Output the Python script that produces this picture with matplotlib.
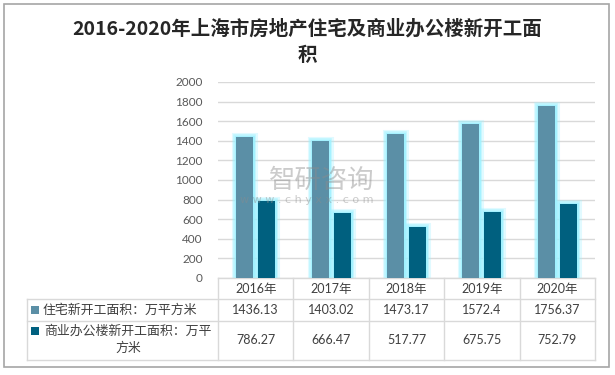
import matplotlib
matplotlib.use("Agg")
import matplotlib.pyplot as plt
import matplotlib.transforms as mtransforms
from matplotlib.patches import Rectangle
import numpy as np

plt.rcParams['font.family'] = ['Noto Sans CJK SC', 'DejaVu Sans']

title = "2016-2020年上海市房地产住宅及商业办公楼新开工面\n积"
years = ["2016年", "2017年", "2018年", "2019年", "2020年"]
residential = [1436.13, 1403.02, 1473.17, 1572.4, 1756.37]
commercial = [786.27, 666.47, 517.77, 675.75, 752.79]
residential_labels = ["1436.13", "1403.02", "1473.17", "1572.4", "1756.37"]
commercial_labels = ["786.27", "666.47", "517.77", "675.75", "752.79"]
series_names = ["住宅新开工面积：万平方米", "商业办公楼新开工面积：万平\n方米"]
yticks = [0, 200, 400, 600, 800, 1000, 1200, 1400, 1600, 1800, 2000]

W, H = 615, 375
fig = plt.figure(figsize=(W / 100, H / 100), dpi=100)

def fx(px):
    return px / W

def fy(py):
    return 1 - py / H

NUMF = ['Lato', 'Noto Sans CJK SC', 'DejaVu Sans']

# outer border
fig.patches.append(Rectangle((fx(4), fy(367)), fx(605), (363) / H, transform=fig.transFigure,
                             fill=False, edgecolor='#a6a6a6', linewidth=1.2))

ax = fig.add_axes([fx(218), fy(278), fx(595 - 218), (278 - 82) / H])
x = np.arange(len(years))
bw = 0.225
off = 0.145
c1 = '#5B8FA6'
c2 = '#00607F'
glow = '#9EF1FF'

for xs, vals, col in [(x - off, residential, c1), (x + off, commercial, c2)]:
    ax.bar(xs, vals, width=bw, color=glow, edgecolor=glow, linewidth=6.5, alpha=0.3, zorder=2)
    ax.bar(xs, vals, width=bw, color=glow, edgecolor=glow, linewidth=4, alpha=0.55, zorder=2)
    ax.bar(xs, vals, width=bw, color=glow, edgecolor=glow, linewidth=2, alpha=0.85, zorder=2)
    ax.bar(xs, vals, width=bw, color=col, linewidth=0, zorder=3)

ax.set_xlim(-0.5, len(years) - 0.5)
ax.set_ylim(0, 2000)
ax.set_yticks(yticks)
ax.set_yticklabels([str(t) for t in yticks], color='#595959', fontsize=8.5, family=NUMF)
ax.tick_params(axis='y', length=0, pad=11)
ax.set_xticks([])
ax.yaxis.grid(True, color='#d9d9d9', linewidth=1)
ax.set_axisbelow(True)
for s in ['top', 'right', 'left']:
    ax.spines[s].set_visible(False)
ax.spines['bottom'].set_color('#d9d9d9')
ax.spines['bottom'].set_linewidth(1)

# table
blend = mtransforms.blended_transform_factory(ax.transData, fig.transFigure)
grid_c = '#d9d9d9'
left_px = 27
for yp in [299, 321, 360]:
    fig.lines.append(plt.Line2D([fx(left_px), fx(595)], [fy(yp), fy(yp)],
                                transform=fig.transFigure, color=grid_c, lw=1))
fig.lines.append(plt.Line2D([fx(left_px), fx(left_px)], [fy(299), fy(360)],
                            transform=fig.transFigure, color=grid_c, lw=1))
for b in np.arange(len(years) + 1) - 0.5:
    ax.plot([b, b], [fy(278), fy(360)], transform=blend, color=grid_c, lw=1, clip_on=False)

tc = '#404040'
for i in range(len(years)):
    ax.text(x[i], fy(289), years[i], transform=blend, ha='center', va='center',
            fontsize=9, color=tc, family=NUMF)
    ax.text(x[i], fy(310), residential_labels[i], transform=blend, ha='center', va='center',
            fontsize=9, color=tc, family=NUMF)
    ax.text(x[i], fy(340), commercial_labels[i], transform=blend, ha='center', va='center',
            fontsize=9, color=tc, family=NUMF)

# legend keys in table
fig.patches.append(Rectangle((fx(31), fy(314)), fx(8), 8 / H, transform=fig.transFigure,
                             color=c1, linewidth=0))
fig.patches.append(Rectangle((fx(31), fy(335)), fx(8), 8 / H, transform=fig.transFigure,
                             color=c2, linewidth=0))
fig.text(fx(43), fy(310), series_names[0], ha='left', va='center', fontsize=9.3, color=tc)
fig.text(fx(128), fy(340), series_names[1], ha='center', va='center', fontsize=9.3, color=tc,
         multialignment='center', linespacing=1.45)

# title
fig.text(fx(307), fy(42), title, ha='center', va='center', fontsize=14, fontweight='bold',
         color='#262626', linespacing=1.45)

# watermark
fig.text(fx(322), fy(180), "智研咨询", ha='center', va='center', fontsize=19,
         color='#8c8c8c', alpha=0.45)
fig.text(fx(307), fy(200), "w w w . c h y x x . c o m", ha='center', va='center',
         fontsize=8, color='#8c8c8c', alpha=0.45, family=['DejaVu Sans'])

fig.savefig("out.png", dpi=100)
